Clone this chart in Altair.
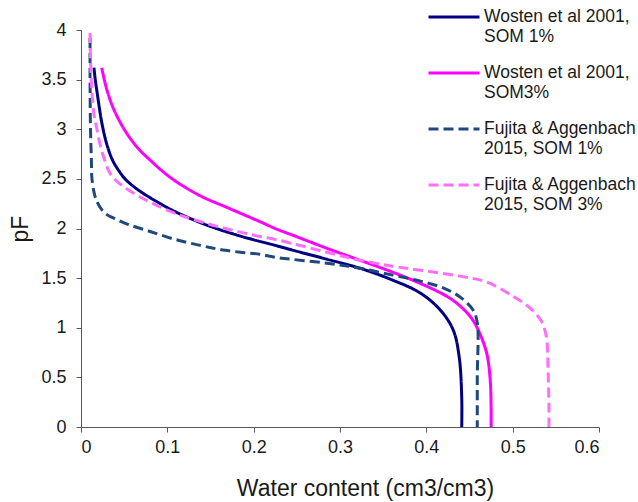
import altair as alt
import pandas as pd

series = [
    "Wosten et al 2001,|SOM 1%",
    "Wosten et al 2001,|SOM3%",
    "Fujita & Aggenbach|2015, SOM 1%",
    "Fujita & Aggenbach|2015, SOM 3%",
]
colors = ["#000080", "#FF00FF", "#1F497D", "#FF6EFF"]
dashes = [[1, 0], [1, 0], [10, 5], [10, 5]]

wosten1_x = [0.015, 0.0165, 0.0185, 0.021, 0.024, 0.028, 0.032, 0.037, 0.044, 0.051, 0.060, 0.071,
             0.090, 0.109, 0.147, 0.186, 0.225, 0.246, 0.285, 0.323, 0.361, 0.393, 0.416, 0.431,
             0.438, 0.441, 0.441]
wosten1_y = [3.62, 3.50, 3.38, 3.23, 3.07, 2.91, 2.79, 2.68, 2.58, 2.50, 2.43, 2.36,
             2.26, 2.17, 2.03, 1.92, 1.83, 1.78, 1.69, 1.60, 1.48, 1.35, 1.18, 0.98,
             0.71, 0.30, 0.0]

wosten3_x = [0.024, 0.0275, 0.032, 0.038, 0.046, 0.056, 0.068, 0.080, 0.094, 0.109, 0.138, 0.167,
             0.207, 0.225, 0.246, 0.285, 0.323, 0.361, 0.400, 0.425, 0.439, 0.452, 0.460, 0.470,
             0.474, 0.475, 0.475]
wosten3_y = [3.62, 3.48, 3.34, 3.20, 3.06, 2.92, 2.79, 2.69, 2.58, 2.48, 2.33, 2.22,
             2.07, 2.00, 1.93, 1.80, 1.68, 1.56, 1.42, 1.31, 1.22, 1.10, 0.98, 0.74,
             0.47, 0.20, 0.0]

fujita1_x = [0.0105, 0.0105, 0.011, 0.012, 0.0127, 0.0155, 0.0185, 0.024, 0.030, 0.039, 0.055, 0.080,
             0.109, 0.138, 0.167, 0.207, 0.225, 0.285, 0.323, 0.361, 0.393, 0.420, 0.439, 0.454,
             0.459, 0.459, 0.459]
fujita1_y = [3.92, 3.50, 3.00, 2.70, 2.50, 2.35, 2.27, 2.19, 2.14, 2.10, 2.04, 1.97,
             1.89, 1.83, 1.78, 1.74, 1.71, 1.65, 1.60, 1.53, 1.47, 1.40, 1.31, 1.18,
             1.05, 0.50, 0.0]

fujita3_x = [0.0105, 0.011, 0.0125, 0.015, 0.018, 0.022, 0.027, 0.034, 0.045, 0.068, 0.107, 0.138,
             0.167, 0.207, 0.225, 0.285, 0.323, 0.361, 0.393, 0.439, 0.470, 0.500, 0.520, 0.533,
             0.539, 0.541, 0.542, 0.542]
fujita3_y = [3.97, 3.70, 3.40, 3.15, 3.02, 2.85, 2.70, 2.55, 2.45, 2.32, 2.16, 2.07,
             2.00, 1.92, 1.89, 1.76, 1.68, 1.62, 1.58, 1.52, 1.46, 1.32, 1.20, 1.07,
             0.91, 0.57, 0.20, 0.0]

x_ticks = [0, 0.1, 0.2, 0.3, 0.4, 0.5, 0.6]
y_ticks = [0, 0.5, 1, 1.5, 2, 2.5, 3, 3.5, 4]

rows = []
for name, xs, ys in zip(series,
                        [wosten1_x, wosten3_x, fujita1_x, fujita3_x],
                        [wosten1_y, wosten3_y, fujita1_y, fujita3_y]):
    for i, (xv, yv) in enumerate(zip(xs, ys)):
        rows.append({"series": name, "x": xv, "pF": yv, "i": i})
df = pd.DataFrame(rows)

FONT = "Liberation Sans"
TXT = "#1a1a1a"
AX = "#595959"

legend = alt.Legend(
    title=None, orient="none", legendX=346, legendY=-40,
    labelExpr="split(datum.label, '|')",
    symbolType="stroke", symbolSize=2601, symbolStrokeWidth=3,
    labelFont=FONT, labelFontSize=17.5, labelColor=TXT, labelLimit=400,
    labelOffset=3, rowPadding=1, padding=0, labelBaseline="middle",
)

chart = alt.Chart(df).mark_line(strokeWidth=3, interpolate="catmull-rom").encode(
    x=alt.X("x:Q", scale=alt.Scale(domain=[0, 0.6], nice=False),
            axis=alt.Axis(values=x_ticks, format="~g", title="Water content (cm3/cm3)",
                          grid=False, titlePadding=21, titleX=284, titleAnchor="start",
                          titleAlign="center")),
    y=alt.Y("pF:Q", scale=alt.Scale(domain=[0, 4], nice=False),
            axis=alt.Axis(values=y_ticks, format="~g", title="pF", grid=False,
                          titlePadding=8, labelPadding=10)),
    color=alt.Color("series:N", scale=alt.Scale(domain=series, range=colors), legend=legend),
    strokeDash=alt.StrokeDash("series:N", scale=alt.Scale(domain=series, range=dashes), legend=legend),
    order="i:Q",
).properties(
    width=518, height=397,
    autosize=alt.AutoSizeParams(type="none"),
    padding={"left": 81, "top": 30, "right": 39, "bottom": 75},
).configure_view(strokeWidth=0).configure_axis(
    domainColor=AX, tickColor=AX, tickSize=5, domainWidth=1, tickWidth=1,
    labelFont=FONT, labelFontSize=18, labelColor=TXT,
    titleFont=FONT, titleFontSize=23, titleFontWeight="normal", titleColor=TXT,
    labelPadding=6,
)

chart.save("out.html", embed_options={"renderer": "svg", "actions": False})
